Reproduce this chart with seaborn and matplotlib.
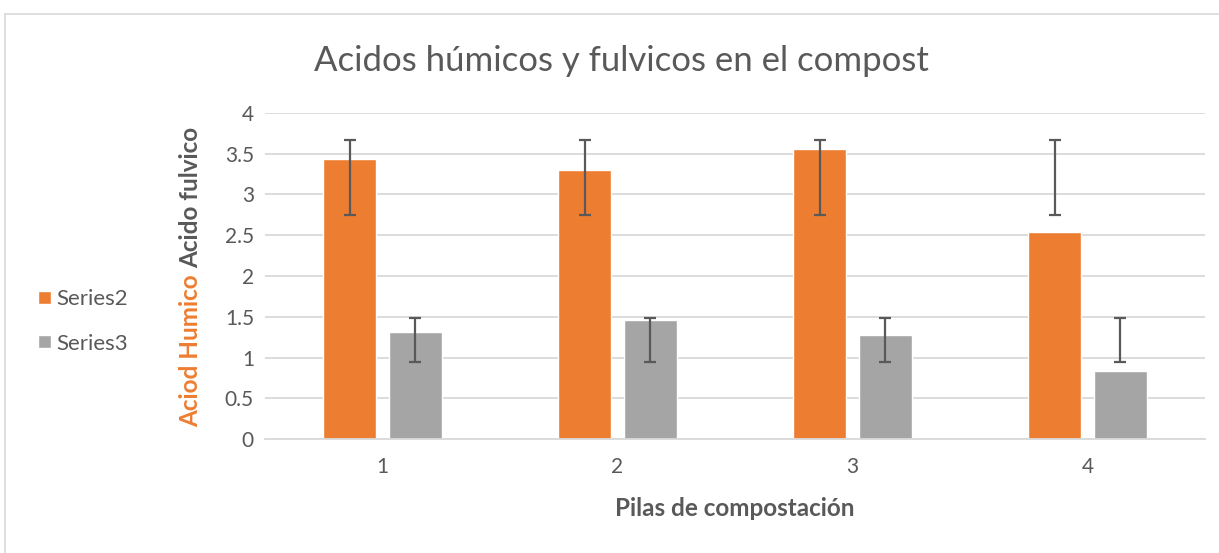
import numpy as np
import pandas as pd
import matplotlib
matplotlib.use("Agg")
import matplotlib.pyplot as plt
import seaborn as sns
from matplotlib.patches import Rectangle

# values
pilas = ["1", "2", "3", "4"]
series2 = [3.44, 3.30, 3.56, 2.54]      # acido humico (orange)
series3 = [1.31, 1.46, 1.28, 0.83]      # acido fulvico (gray)
err2_low = [2.75, 2.75, 2.75, 2.75]
err2_high = [3.67, 3.67, 3.67, 3.67]
err3_low = [0.95, 0.95, 0.95, 0.95]
err3_high = [1.49, 1.49, 1.49, 1.49]

ORANGE = "#ed7d31"
GRAY = "#a5a5a5"
TXT = "#595959"

df = pd.DataFrame({
    "pila": pilas * 2,
    "valor": series2 + series3,
    "serie": ["Series2"] * 4 + ["Series3"] * 4,
})

sns.set_theme(style="white")
plt.rcParams["font.family"] = ["Lato", "DejaVu Sans"]

fig = plt.figure(figsize=(12.19, 5.53), dpi=100)
ax = fig.add_axes([0.2174, 0.2061, 0.7711, 0.5896])

sns.barplot(data=df, x="pila", y="valor", hue="serie", palette=[ORANGE, GRAY],
            saturation=1, width=0.56, gap=0.2, ax=ax, legend=True,
            errorbar=None, zorder=2)

# custom error bars (low/high given separately)
for cont, lo, hi in zip(ax.containers, [err2_low, err3_low], [err2_high, err3_high]):
    xs = [b.get_x() + b.get_width() / 2 for b in cont]
    lo = np.array(lo)
    hi = np.array(hi)
    ax.errorbar(xs, (lo + hi) / 2, yerr=(hi - lo) / 2, fmt="none",
                ecolor=TXT, elinewidth=1.6, capsize=4.5, capthick=1.6, zorder=3)

ax.set_ylim(0, 4)
ax.set_xlim(-0.5, 3.5)
ax.set_yticks(np.arange(0, 4.01, 0.5))
ax.set_yticklabels(["0", "0.5", "1", "1.5", "2", "2.5", "3", "3.5", "4"])
ax.yaxis.grid(True, color="#d9d9d9", linewidth=1.3, zorder=0)
ax.set_axisbelow(True)
for s in ["top", "right", "left"]:
    ax.spines[s].set_visible(False)
ax.spines["bottom"].set_color("#d9d9d9")
ax.spines["bottom"].set_linewidth(1.3)
ax.tick_params(axis="both", colors=TXT, labelsize=15, length=0, pad=8)
ax.tick_params(axis="x", pad=13)
ax.set_xlabel("Pilas de compostación", fontsize=17.5, fontweight="bold", color=TXT, labelpad=14)
ax.set_ylabel("")

# two-colour y label: place the second part right after the first one
t1 = fig.text(0.156, 0.2277, "Aciod Humico", rotation=90, color=ORANGE, fontsize=17.5,
              fontweight="bold", ha="center", va="bottom")
fig.canvas.draw()
bb = t1.get_window_extent(renderer=fig.canvas.get_renderer())
top = fig.transFigure.inverted().transform((0, bb.y1 + 6))[1]
fig.text(0.156, top, "Acido fulvico", rotation=90, color=TXT, fontsize=17.5,
         fontweight="bold", ha="center", va="bottom")

fig.text(0.51, 0.89, "Acidos húmicos y fulvicos en el compost", fontsize=25,
         color=TXT, ha="center", va="center")

handles, labels = ax.get_legend_handles_labels()
ax.get_legend().remove()
fig.legend(handles, labels, loc="center left", bbox_to_anchor=(0.015, 0.419),
           frameon=False, fontsize=16, labelcolor=TXT, handlelength=0.55,
           handleheight=0.55, handletextpad=0.25, labelspacing=1.1)

fig.patches.append(Rectangle((0.004, -0.01), 1.1, 0.985, transform=fig.transFigure,
                             fill=False, edgecolor="#d9d9d9", linewidth=1.2))

fig.savefig("out.png", dpi=100)
